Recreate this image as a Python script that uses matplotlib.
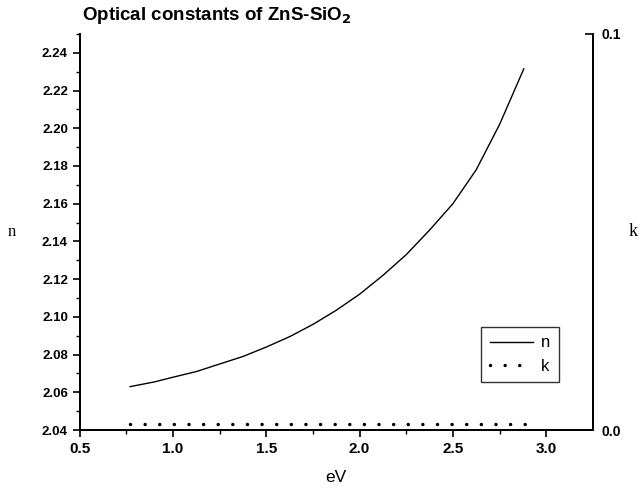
import matplotlib
matplotlib.use("Agg")
import matplotlib.pyplot as plt
import numpy as np

# ---- data ----
ev = [0.77, 0.9, 1.0, 1.125, 1.25, 1.375, 1.5, 1.625, 1.75, 1.875,
      2.0, 2.125, 2.25, 2.375, 2.5, 2.625, 2.75, 2.88]
n_vals = [2.063, 2.0655, 2.068, 2.071, 2.075, 2.079, 2.084, 2.0895, 2.096, 2.1035,
          2.112, 2.122, 2.133, 2.146, 2.160, 2.178, 2.202, 2.2315]
ev_k = [0.77, 1.0, 1.5, 2.0, 2.5, 2.92]
k_vals = [0.0015, 0.0015, 0.0015, 0.0015, 0.0015, 0.0015]

left_ticks = [2.04, 2.06, 2.08, 2.10, 2.12, 2.14, 2.16, 2.18, 2.20, 2.22, 2.24]
bottom_ticks = [0.5, 1.0, 1.5, 2.0, 2.5, 3.0]

plt.rcParams['font.family'] = ['Liberation Sans', 'DejaVu Sans']

fig = plt.figure(figsize=(6.43, 4.92), dpi=100)
ax = fig.add_axes([0.124, 0.126, 0.798, 0.805])
ax2 = ax.twinx()

ln1, = ax.plot(ev, n_vals, color='black', lw=1.0, label='n')
ln2, = ax2.plot(ev_k, k_vals, color='black', lw=2.5, dashes=(0.01, 4.2),
                dash_capstyle='round', label='k')

ax.set_xlim(0.5, 3.25)
ax.set_ylim(2.04, 2.25)
ax2.set_ylim(0.0, 0.1)

ax.set_xticks(bottom_ticks)
ax.set_xticklabels(['%.1f' % v for v in bottom_ticks], fontsize=11, fontweight='bold')
ax.set_xticks(np.arange(0.75, 3.25, 0.5), minor=True)
ax.set_yticks(left_ticks)
ax.set_yticklabels(['%.2f' % v for v in left_ticks], fontsize=9.5, fontweight='bold')
ax.set_yticks(np.arange(2.05, 2.255, 0.02), minor=True)
ax.tick_params(which='major', length=5, width=1.2, direction='out')
ax.tick_params(which='minor', length=3, width=1.0, direction='out')

ax2.set_yticks([0.0, 0.1])
ax2.set_yticklabels(['0.0', '0.1'], fontsize=10, fontweight='bold')
ax2.tick_params(axis='y', direction='in', length=6, width=1.2, pad=6)

for a in (ax, ax2):
    a.spines['top'].set_visible(False)
    for s in ('left', 'bottom', 'right'):
        a.spines[s].set_linewidth(1.4)

ax.set_xlabel('eV', fontsize=12.5, labelpad=10)
ax.set_ylabel('n', fontsize=12, family='Liberation Serif', rotation=0, labelpad=22, va='center')
ax2.set_ylabel('k', fontsize=13, family='Liberation Serif', rotation=0, labelpad=9, va='center')

fig.text(0.128, 0.968, 'Optical constants of ZnS-SiO$_\\mathbf{2}$', fontsize=13.5,
         fontweight='bold', ha='left', va='center')

leg = ax.legend([ln1, ln2], ['n', 'k'], loc='lower right', bbox_to_anchor=(0.95, 0.10),
                fontsize=12, frameon=True, fancybox=False, edgecolor='black',
                handlelength=2.6, borderpad=0.5, labelspacing=0.5, handletextpad=0.5)
leg.get_frame().set_linewidth(1.0)

fig.savefig('out.png', dpi=100)
